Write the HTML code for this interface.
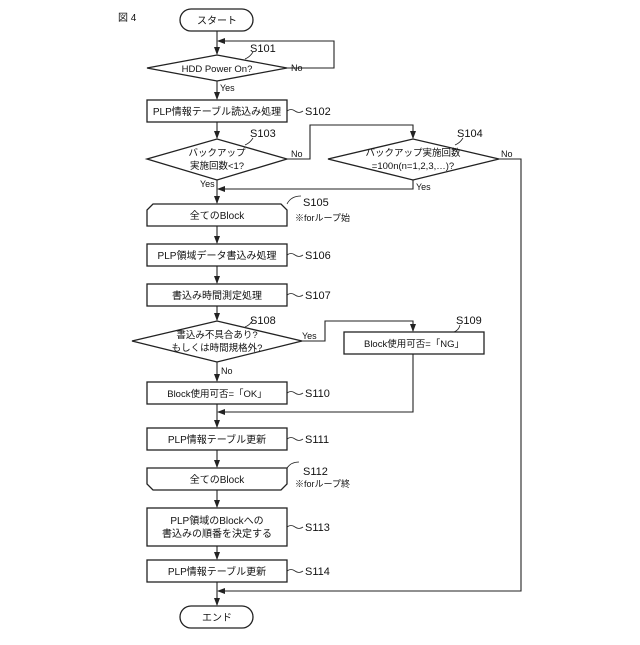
<!DOCTYPE html>
<html><head><meta charset="utf-8"><style>body{margin:0;background:#fff}</style></head><body>
<svg width="640" height="640" xmlns="http://www.w3.org/2000/svg" font-family="Liberation Sans, Noto Sans CJK JP, sans-serif" font-size="10">
<defs><marker id="a" markerWidth="8" markerHeight="8" refX="7" refY="4" orient="auto" markerUnits="userSpaceOnUse"><path d="M0,1 L8,4 L0,7z" fill="#222"/></marker></defs>
<g stroke="#222" stroke-width="1.3" fill="#fff">
<rect x="180" y="9" width="73" height="22" rx="11"/>
<polygon points="147,68 217,55 287,68 217,81"/>
<rect x="147" y="100" width="140" height="22"/>
<polygon points="147,159 217,139 287,159 217,180"/>
<polygon points="328,159 413,139 499,159 413,180"/>
<path d="M153,204 H281 L287,210 V226 H147 V210 Z"/>
<rect x="147" y="244" width="140" height="22"/>
<rect x="147" y="284" width="140" height="22"/>
<polygon points="132,341 217,321 302,341 217,362"/>
<rect x="344" y="332" width="140" height="22"/>
<rect x="147" y="382" width="140" height="22"/>
<rect x="147" y="428" width="140" height="22"/>
<path d="M147,468 H287 V484 L281,490 H153 L147,484 Z"/>
<rect x="147" y="508" width="140" height="38"/>
<rect x="147" y="560" width="140" height="22"/>
<rect x="180" y="606" width="73" height="22" rx="11"/>
</g>
<g stroke="#222" stroke-width="1.1" fill="none" marker-end="url(#a)">
<line x1="217" y1="31" x2="217" y2="54"/>
<polyline points="287,68 334,68 334,41 218,41"/>
<line x1="217" y1="81" x2="217" y2="99"/>
<line x1="217" y1="122" x2="217" y2="138"/>
<polyline points="287,159 310,159 310,125 413,125 413,138"/>
<polyline points="413,180 413,189 218,189"/>
<line x1="217" y1="180" x2="217" y2="203"/>
<line x1="217" y1="226" x2="217" y2="243"/>
<line x1="217" y1="266" x2="217" y2="283"/>
<line x1="217" y1="306" x2="217" y2="320"/>
<polyline points="302,341 325,341 325,321 413,321 413,331"/>
<polyline points="413,354 413,412 218,412"/>
<line x1="217" y1="362" x2="217" y2="381"/>
<line x1="217" y1="404" x2="217" y2="427"/>
<line x1="217" y1="450" x2="217" y2="467"/>
<line x1="217" y1="490" x2="217" y2="507"/>
<line x1="217" y1="546" x2="217" y2="559"/>
<polyline points="499,159 521,159 521,591 218,591"/>
<line x1="217" y1="582" x2="217" y2="605"/>
</g>
<g stroke="#222" stroke-width="0.8" fill="none">
<path d="M287,111 q4,-3 8,0 t8,0"/><path d="M287,255 q4,-3 8,0 t8,0"/><path d="M287,295 q4,-3 8,0 t8,0"/>
<path d="M287,393 q4,-3 8,0 t8,0"/><path d="M287,439 q4,-3 8,0 t8,0"/><path d="M287,571 q4,-3 8,0 t8,0"/><path d="M287,527 q4,-3 8,0 t8,0"/>
<path d="M287,204 q4,-8 14,-8"/><path d="M287,468 q4,-6 12,-6"/>
<path d="M245,59 q5,-2 8,-7"/><path d="M245,145 q5,-2 8,-7"/><path d="M455,145 q5,-2 8,-7"/><path d="M245,327 q5,-2 8,-7"/><path d="M454,332 q5,-2 6,-7"/>
</g>
<g fill="#111" text-anchor="middle">
<text x="217" y="24">スタート</text>
<text x="217" y="72" font-size="9.5">HDD Power On?</text>
<text x="217" y="115">PLP情報テーブル読込み処理</text>
<text x="217" y="156" font-size="9.5">バックアップ</text>
<text x="217" y="169" font-size="9.5">実施回数&lt;1?</text>
<text x="413" y="156" font-size="9.5">バックアップ実施回数</text>
<text x="413" y="169" font-size="9.5">=100n(n=1,2,3,…)?</text>
<text x="217" y="219">全てのBlock</text>
<text x="217" y="259">PLP領域データ書込み処理</text>
<text x="217" y="299">書込み時間測定処理</text>
<text x="217" y="338" font-size="9.5">書込み不具合あり?</text>
<text x="217" y="351" font-size="9.5">もしくは時間規格外?</text>
<text x="414" y="347" font-size="9.5">Block使用可否=「NG」</text>
<text x="217" y="397" font-size="9.5">Block使用可否=「OK」</text>
<text x="217" y="443">PLP情報テーブル更新</text>
<text x="217" y="483">全てのBlock</text>
<text x="217" y="524">PLP領域のBlockへの</text>
<text x="217" y="537">書込みの順番を決定する</text>
<text x="217" y="575">PLP情報テーブル更新</text>
<text x="217" y="621">エンド</text>
</g>
<g fill="#111" font-size="11">
<text x="118" y="21" font-size="10">図 4</text>
<text x="250" y="52">S101</text><text x="305" y="115">S102</text><text x="250" y="137">S103</text><text x="457" y="137">S104</text>
<text x="303" y="206">S105</text><text x="305" y="259">S106</text><text x="305" y="299">S107</text><text x="250" y="324">S108</text>
<text x="456" y="324">S109</text><text x="305" y="397">S110</text><text x="305" y="443">S111</text><text x="303" y="475">S112</text>
<text x="305" y="531">S113</text><text x="305" y="575">S114</text>
</g>
<g fill="#111" font-size="9">
<text x="291" y="71">No</text><text x="220" y="91">Yes</text><text x="291" y="157">No</text><text x="200" y="187">Yes</text>
<text x="501" y="157">No</text><text x="416" y="190">Yes</text><text x="302" y="339">Yes</text><text x="221" y="374">No</text>
<text x="295" y="221">※forループ始</text><text x="295" y="487">※forループ終</text>
</g>
</svg>
</body></html>
